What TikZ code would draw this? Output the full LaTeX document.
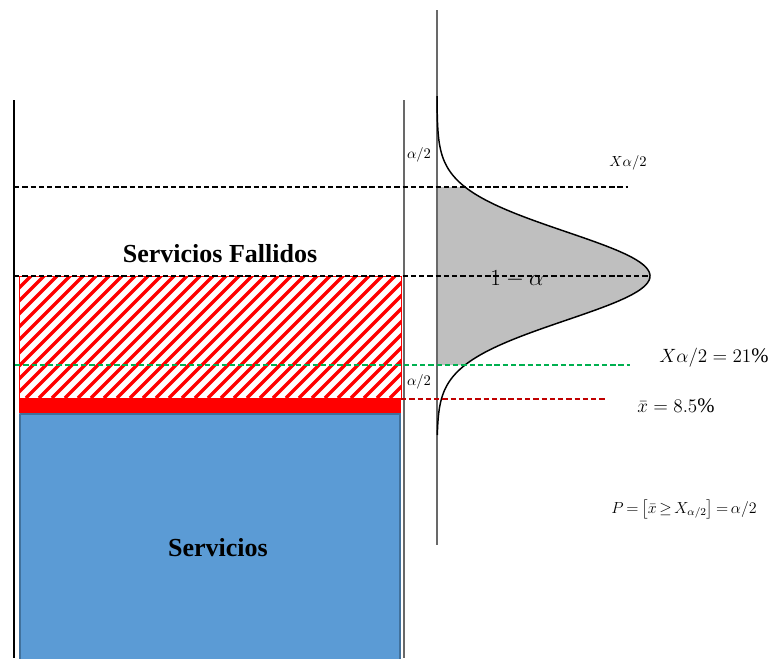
\documentclass[tikz,border=0pt]{standalone}
\usepackage{amsmath, amssymb}
\usepackage{fontspec}
\setmainfont{Liberation Serif}
\usepackage{tikz}
\usepackage{xcolor}
\definecolor{servblue}{RGB}{91,155,213}
\definecolor{servedge}{RGB}{65,113,156}
\definecolor{limgreen}{RGB}{0,176,80}
\definecolor{meanred}{RGB}{192,0,0}
\definecolor{axisgray}{RGB}{105,105,105}

\begin{document}
\begin{tikzpicture}[x=0.75pt, y=-0.75pt, every node/.style={inner sep=0pt},
  wall/.style={line width=1.3pt},
  cut/.style={line width=1.1pt, dash pattern=on 4pt off 2.2pt},
  title/.style={font=\bfseries\fontsize{19.5}{23}\selectfont},
  tail/.style={font=\fontsize{10.5}{12}\selectfont},
  result/.style={font=\fontsize{15.5}{18}\selectfont}]
  \useasboundingbox (0,0) rectangle (776,658);
  % --- Barra: servicios ---
  \fill[servblue] (19,413) rectangle (401,662);
  \draw[servedge, line width=1.5pt] (20,414) -- (20,662);
  \draw[servedge, line width=1.5pt] (20,414) -- (400,414) -- (400,662);
  \fill[red] (19,398) rectangle (401,413);
  % Rayado (servicios fallidos)
  \begin{scope}
    \clip (19,276) rectangle (401,398);
    \foreach \h in {-130,-117,...,405}
      \draw[red, line width=2.4pt] (\h,398) -- ++(122,-122);
  \end{scope}
  \draw[red, line width=0.6pt] (19,276) rectangle (401,398);
  % Paredes
  \draw[wall] (14,100) -- (14,658);
  \draw[wall, axisgray] (404,100) -- (404,658);

  % --- Distribucion ---
  \fill[black!25] (437,187) -- plot[domain=-89:89, samples=80] ({437+213*exp(-((\x)/62.5)^2)}, {276+\x}) -- (437,365) -- cycle;
  \draw[wall, axisgray] (437,10) -- (437,545);
  \draw[line width=1.1pt] plot[domain=-180:159, samples=150] ({437+213*exp(-((\x)/62.5)^2)}, {276+\x});

  % Lineas de corte
  \draw[cut] (14,187) -- (628,187);
  \draw[cut] (14,276) -- (650,276);
  \draw[cut, limgreen] (15,365) -- (630,365);
  \draw[cut, meanred] (401,399) -- (607,399);

  % Etiquetas
  \node[title] (fallidos) at (220,254) {Servicios Fallidos};
  \node[title] (servicios) at (218,548) {Servicios};
  \node[tail] (colasup) at (419,155) {$\alpha/2$};
  \node[tail] (colainf) at (419,382) {$\alpha/2$};
  \node[tail] (xsup) at (628,163) {$X\alpha/2$};
  \node[font=\fontsize{17}{20}\selectfont] (conf) at (517,279) {$1-\alpha$};
  \node[result] (xlim) at (714,358) {$X\alpha/2 = 21\%$};
  \node[result] (xbar) at (676,406) {$\bar{x} = 8.5\%$};
  \node[font=\fontsize{12}{14}\selectfont] (prob) at (684,509)
    {$\thickmuskip=3mu P = \bigl[\bar{x} \geq X_{\alpha/2}\bigr] = \alpha/2$};
\end{tikzpicture}
\end{document}
